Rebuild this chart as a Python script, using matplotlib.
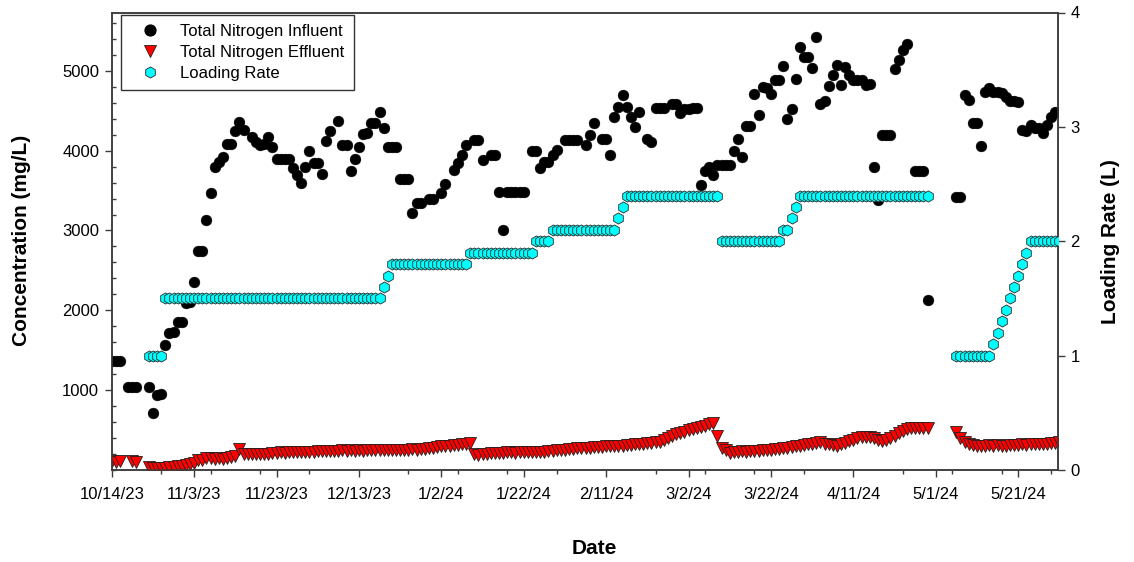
import numpy as np
import pandas as pd
import matplotlib
matplotlib.use("Agg")
import matplotlib.pyplot as plt
from matplotlib.ticker import FixedLocator, MultipleLocator, NullLocator
from matplotlib.lines import Line2D

plt.rcParams['font.family'] = ['Liberation Sans', 'DejaVu Sans']

# ---------------- data ----------------
start_date = "2023-10-14"
end_date = "2024-05-30 16:00"

x_tick_labels = ["10/14/23", "11/3/23", "11/23/23", "12/13/23", "1/2/24", "1/22/24",
                 "2/11/24", "3/2/24", "3/22/24", "4/11/24", "5/1/24", "5/21/24"]
left_ticks = [1000, 2000, 3000, 4000, 5000]
right_ticks = [0, 1, 2, 3, 4]

# Total Nitrogen Influent (mg/L), sampling day offsets from start_date
influent_days = [0, 1, 2, 4, 5, 6, 9, 10, 11, 12, 13, 14, 15, 16, 17, 18, 19, 20, 21, 22,
                 23, 24, 25, 26, 27, 28, 29, 30, 31, 32, 34, 35, 36, 37, 38, 39, 40, 41, 42, 43,
                 44, 45, 46, 47, 48, 49, 50, 51, 52, 53, 55, 56, 57, 58, 59, 60, 61, 62, 63, 64,
                 65, 66, 67, 68, 69, 70, 71, 72, 73, 74, 75, 77, 78, 80, 81, 83, 84, 85, 86, 88,
                 89, 90, 92, 93, 94, 95, 96, 97, 98, 99, 100, 102, 103, 104, 105, 106, 107, 108, 110, 111,
                 112, 113, 115, 116, 117, 119, 120, 121, 122, 123, 124, 125, 126, 127, 128, 130, 131, 132, 133, 134,
                 136, 137, 138, 139, 140, 141, 142, 143, 144, 145, 146, 147, 148, 149, 150, 151, 152, 153, 154, 155,
                 156, 157, 158, 159, 160, 161, 162, 163, 164, 165, 166, 167, 168, 169, 170, 171, 172, 173, 174, 175,
                 176, 177, 178, 179, 180, 181, 182, 183, 184, 185, 186, 187, 188, 189, 190, 191, 192, 193, 195, 196,
                 197, 198, 205, 206, 207, 208, 209, 210, 211, 212, 213, 214, 215, 216, 217, 218, 219, 220, 221, 222,
                 223, 224, 225, 226, 227, 228, 229]
influent_mgL = [1360, 1360, 1360, 1040, 1040, 1040, 1040, 710, 940, 950, 1570, 1720, 1730, 1850, 1850, 2090, 2100, 2350, 2740, 2740,
                3125, 3470, 3800, 3855, 3920, 4080, 4080, 4240, 4360, 4260, 4170, 4110, 4070, 4080, 4170, 4050, 3900, 3900, 3900, 3900,
                3780, 3700, 3600, 3800, 3990, 3850, 3850, 3710, 4120, 4240, 4375, 4070, 4070, 3750, 3900, 4050, 4210, 4220, 4340, 4350,
                4490, 4280, 4050, 4050, 4050, 3640, 3640, 3640, 3225, 3340, 3340, 3400, 3400, 3470, 3580, 3760, 3840, 3950, 4070, 4130,
                4130, 3880, 3950, 3950, 3480, 3010, 3480, 3480, 3480, 3480, 3480, 3990, 3990, 3780, 3860, 3860, 3950, 4010, 4130, 4130,
                4130, 4130, 4070, 4200, 4340, 4150, 4150, 3950, 4420, 4550, 4700, 4550, 4420, 4300, 4490, 4150, 4110, 4530, 4530, 4530,
                4590, 4590, 4470, 4520, 4520, 4530, 4530, 3570, 3740, 3800, 3700, 3820, 3820, 3820, 3820, 3990, 4145, 3925, 4310, 4310,
                4710, 4450, 4800, 4780, 4710, 4880, 4880, 5065, 4390, 4520, 4900, 5300, 5175, 5175, 5040, 5425, 4590, 4625, 4810, 4950,
                5070, 4820, 5050, 4950, 4880, 4880, 4880, 4820, 4840, 3800, 3380, 4200, 4200, 4200, 5020, 5140, 5260, 5340, 3740, 3740,
                3740, 2135, 3425, 3425, 4700, 4630, 4340, 4340, 4060, 4740, 4780, 4740, 4740, 4720, 4675, 4625, 4625, 4610, 4260, 4250,
                4320, 4280, 4280, 4225, 4320, 4425, 4480]

# Total Nitrogen Effluent (mg/L): daily samples in three periods
effluent_early_days = [0, 1, 2, 5, 6]
effluent_early_mgL = [110, 105, 110, 110, 100]
effluent_period2 = ("2023-10-23", "2024-04-29")   # days 9..198
effluent_period2_mgL = [40, 30, 25, 30, 30, 35, 40, 45, 55, 60,
                        75, 90, 125, 130, 150, 155, 140, 150, 140, 150,
                        165, 170, 265, 195, 200, 195, 200, 205, 200, 205,
                        210, 215, 220, 215, 220, 225, 220, 225, 230, 225,
                        230, 235, 240, 235, 240, 235, 240, 245, 240, 245,
                        240, 245, 240, 245, 250, 245, 250, 255, 250, 255,
                        250, 255, 250, 255, 260, 255, 260, 265, 270, 275,
                        285, 295, 300, 305, 310, 315, 320, 330, 340, 200,
                        190, 200, 205, 210, 215, 210, 215, 225, 220, 215,
                        220, 225, 220, 225, 230, 225, 230, 235, 240, 245,
                        250, 255, 260, 265, 270, 275, 280, 280, 285, 290,
                        290, 295, 300, 305, 300, 305, 310, 315, 320, 325,
                        330, 335, 340, 345, 355, 370, 395, 420, 445, 465,
                        480, 495, 510, 525, 535, 550, 570, 590, 425, 280,
                        250, 210, 225, 230, 235, 230, 235, 240, 240, 245,
                        250, 255, 260, 265, 270, 280, 285, 295, 300, 310,
                        320, 330, 340, 345, 330, 320, 310, 300, 320, 340,
                        360, 380, 400, 410, 410, 410, 400, 370, 360, 380,
                        400, 430, 460, 490, 510, 520, 520, 520, 530, 530]
effluent_period3 = ("2024-05-06", "2024-05-31")   # days 204..229
effluent_period3_mgL = [470, 400, 350, 320, 310, 300, 305, 300, 310, 305,
                        310, 300, 305, 310, 315, 310, 320, 315, 320, 325,
                        320, 330, 330, 335, 340, 345]

# Loading Rate (L): daily values in two periods
loading_period1 = ("2023-10-23", "2024-04-29")    # days 9..198
loading_period1_L = [1.0, 1.0, 1.0, 1.0,
                     1.5, 1.5, 1.5, 1.5, 1.5, 1.5, 1.5, 1.5, 1.5, 1.5,
                     1.5, 1.5, 1.5, 1.5, 1.5, 1.5, 1.5, 1.5, 1.5, 1.5,
                     1.5, 1.5, 1.5, 1.5, 1.5, 1.5, 1.5, 1.5, 1.5, 1.5,
                     1.5, 1.5, 1.5, 1.5, 1.5, 1.5, 1.5, 1.5, 1.5, 1.5,
                     1.5, 1.5, 1.5, 1.5, 1.5, 1.5, 1.5, 1.5, 1.5, 1.5,
                     1.5, 1.5, 1.5,
                     1.6, 1.7,
                     1.8, 1.8, 1.8, 1.8, 1.8, 1.8, 1.8, 1.8, 1.8, 1.8,
                     1.8, 1.8, 1.8, 1.8, 1.8, 1.8, 1.8, 1.8, 1.8,
                     1.9, 1.9, 1.9, 1.9, 1.9, 1.9, 1.9, 1.9, 1.9, 1.9,
                     1.9, 1.9, 1.9, 1.9, 1.9, 1.9,
                     2.0, 2.0, 2.0, 2.0,
                     2.1, 2.1, 2.1, 2.1, 2.1, 2.1, 2.1, 2.1, 2.1, 2.1,
                     2.1, 2.1, 2.1, 2.1, 2.1, 2.1,
                     2.2, 2.3,
                     2.4, 2.4, 2.4, 2.4, 2.4, 2.4, 2.4, 2.4, 2.4, 2.4,
                     2.4, 2.4, 2.4, 2.4, 2.4, 2.4, 2.4, 2.4, 2.4, 2.4,
                     2.4, 2.4, 2.4,
                     2.0, 2.0, 2.0, 2.0, 2.0, 2.0, 2.0, 2.0, 2.0, 2.0,
                     2.0, 2.0, 2.0, 2.0, 2.0,
                     2.1, 2.1, 2.2, 2.3,
                     2.4, 2.4, 2.4, 2.4, 2.4, 2.4, 2.4, 2.4, 2.4, 2.4,
                     2.4, 2.4, 2.4, 2.4, 2.4, 2.4, 2.4, 2.4, 2.4, 2.4,
                     2.4, 2.4, 2.4, 2.4, 2.4, 2.4, 2.4, 2.4, 2.4, 2.4,
                     2.4, 2.4]
loading_period2 = ("2024-05-06", "2024-05-31")    # days 204..229
loading_period2_L = [1.0, 1.0, 1.0, 1.0, 1.0, 1.0, 1.0, 1.0, 1.0,
                     1.1, 1.2, 1.3, 1.4, 1.5, 1.6, 1.7, 1.8, 1.9,
                     2.0, 2.0, 2.0, 2.0, 2.0, 2.0, 2.0, 2.0]

# ---------------- build dates ----------------
t0 = pd.Timestamp(start_date)
inf_x = t0 + pd.to_timedelta(influent_days, unit="D")
eff_x = (list(t0 + pd.to_timedelta(effluent_early_days, unit="D"))
         + list(pd.date_range(*effluent_period2, freq="D"))
         + list(pd.date_range(*effluent_period3, freq="D")))
eff_y = effluent_early_mgL + effluent_period2_mgL + effluent_period3_mgL
load_x = list(pd.date_range(*loading_period1, freq="D")) + list(pd.date_range(*loading_period2, freq="D"))
load_y = loading_period1_L + loading_period2_L

# ---------------- figure ----------------
W, H = 1134, 562
fig = plt.figure(figsize=(W / 100, H / 100), dpi=100)
ax = fig.add_axes([111.7 / W, 1 - 470 / H, (1058 - 111.7) / W, (470 - 12.5) / H])
ax2 = ax.twinx()

spine_c = "#3c3c3c"
for a in (ax, ax2):
    for s in a.spines.values():
        s.set_color(spine_c)
        s.set_linewidth(1.1)

dot_ms, tri_ms, hex_ms = 7.8, 8.2, 8.0
ax.plot(inf_x, influent_mgL, linestyle="none", marker="o", markersize=dot_ms,
        markerfacecolor="black", markeredgecolor="black", markeredgewidth=0.3, zorder=3)
ax.plot(eff_x, eff_y, linestyle="none", marker="v", markersize=tri_ms,
        markerfacecolor="#ff0000", markeredgecolor="#202020", markeredgewidth=0.6, zorder=3)
ax2.plot(load_x, load_y, linestyle="none", marker="h", markersize=hex_ms,
         markerfacecolor="#00ffff", markeredgecolor="#2a2a2a", markeredgewidth=0.6, zorder=3)

# x axis
xmaj = pd.to_datetime(x_tick_labels, format="%m/%d/%y")
ax.set_xlim(t0, pd.Timestamp(end_date))
ax.xaxis.set_major_locator(FixedLocator(matplotlib.dates.date2num(xmaj)))
ax.set_xticklabels(x_tick_labels)
minor = [d for d in pd.date_range(t0, pd.Timestamp(end_date), freq="12D") if d not in set(xmaj)]
ax.xaxis.set_minor_locator(FixedLocator(matplotlib.dates.date2num(minor)))

# y axes
ax.set_ylim(0, 5730)
ax.yaxis.set_major_locator(FixedLocator(left_ticks))
ax.yaxis.set_minor_locator(MultipleLocator(200))
ax2.set_ylim(0, 4)
ax2.yaxis.set_major_locator(FixedLocator(right_ticks))
ax2.yaxis.set_minor_locator(NullLocator())

tick_fs = 12
ax.tick_params(axis="x", which="major", direction="out", length=5, width=1, color=spine_c,
               labelsize=tick_fs, pad=7)
ax.tick_params(axis="x", which="minor", direction="out", length=3.2, width=1, color=spine_c)
ax.tick_params(axis="y", which="major", direction="out", length=5, width=1, color=spine_c,
               labelsize=tick_fs, pad=4)
ax.tick_params(axis="y", which="minor", direction="in", length=3, width=1, color=spine_c)
ax2.tick_params(axis="y", which="major", direction="out", length=5, width=1, color=spine_c,
                labelsize=tick_fs, pad=4)

# labels
lab_fs = 15
fig.text(22 / W, 1 - 240 / H, "Concentration (mg/L)", rotation=90, ha="center", va="center",
         fontsize=lab_fs, fontweight="bold")
fig.text(1111 / W, 1 - 242 / H, "Loading Rate (L)", rotation=90, ha="center", va="center",
         fontsize=lab_fs, fontweight="bold")
fig.text(594 / W, 1 - 548 / H, "Date", ha="center", va="center",
         fontsize=lab_fs, fontweight="bold")

# legend
handles = [
    Line2D([], [], linestyle="none", marker="o", markersize=dot_ms, markerfacecolor="black",
           markeredgecolor="black", label="Total Nitrogen Influent"),
    Line2D([], [], linestyle="none", marker="v", markersize=tri_ms, markerfacecolor="#ff0000",
           markeredgecolor="#202020", markeredgewidth=0.6, label="Total Nitrogen Effluent"),
    Line2D([], [], linestyle="none", marker="h", markersize=hex_ms, markerfacecolor="#00ffff",
           markeredgecolor="#2a2a2a", markeredgewidth=0.6, label="Loading Rate"),
]
leg = ax2.legend(handles=handles, loc="upper left",
                 bbox_to_anchor=((121 - 111.7) / (1058 - 111.7), (470 - 15) / (470 - 12.5)),
                 borderaxespad=0, frameon=True, fancybox=False, fontsize=12,
                 handlelength=2.4, handletextpad=0.6, labelspacing=0.35, borderpad=0.55,
                 numpoints=1)
leg.get_frame().set_edgecolor("black")
leg.get_frame().set_linewidth(1.0)
leg.set_zorder(10)

fig.savefig("out.png", dpi=100, facecolor="white")
